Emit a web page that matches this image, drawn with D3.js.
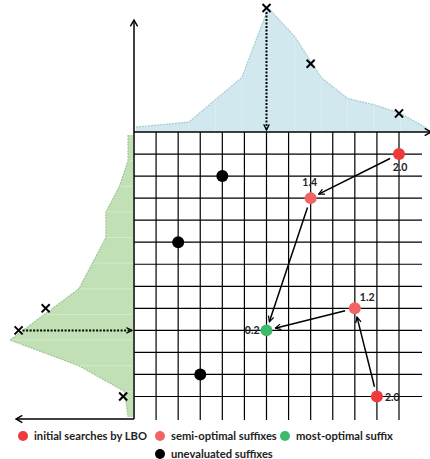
<!DOCTYPE html>
<html>
<head>
<meta charset="utf-8">
<script src="https://cdn.jsdelivr.net/npm/d3@7"></script>
<style>
  body { margin: 0; background: #fff; }
  svg { display: block; font-family: Lato, "Open Sans", sans-serif; }
</style>
</head>
<body>
<svg id="chart"></svg>
<script>
const width = 430;
const height = 459;

// density along the top (x direction), 12 samples, peak = 100
const topDensity = [4, 6, 8, 26, 44, 100, 77, 44, 27, 22, 15, 3];
// density along the left side (y direction), 12 samples, peak = 100
const leftDensity = [4, 4, 11, 22, 22, 33, 44, 72, 100, 44, 7, 4];

// crosses on the density curves (grid column/row, density value)
const topMarks = [{ col: 6, v: 100 }, { col: 8, v: 55 }, { col: 12, v: 15 }];
const leftMarks = [{ row: 8, v: 71 }, { row: 9, v: 93 }, { row: 12, v: 8 }];

// points on the search grid
const initialPts = [{ col: 12, row: 1, label: "2.0" }, { col: 11, row: 12, label: "2.0" }];
const semiPts = [{ col: 8, row: 3, label: "1.4" }, { col: 10, row: 8, label: "1.2" }];
const bestPts = [{ col: 6, row: 9, label: "0.2" }];
const unevaluatedPts = [{ col: 4, row: 2 }, { col: 2, row: 5 }, { col: 3, row: 11 }];

// search moves: [from col,row] -> [to col,row]
const moves = [
  [[12, 1], [8, 3]],
  [[8, 3], [6, 9]],
  [[10, 8], [6, 9]],
  [[11, 12], [10, 8]]
];

const legendItems = [
  { name: "initial searches by LBO", color: "#ee3a3c" },
  { name: "semi-optimal suffixes", color: "#f26363" },
  { name: "most-optimal suffix", color: "#3fb96a" },
  { name: "unevaluated suffixes", color: "#000000" }
];

const svg = d3.select("#chart")
  .attr("width", width)
  .attr("height", height)
  .attr("viewBox", [0, 0, width, height]);

const gx = d3.scaleLinear().domain([0, 12]).range([134, 399]);
const gy = d3.scaleLinear().domain([0, 12]).range([132, 396.5]);

const tx = d3.scaleLinear().domain([0, topDensity.length - 1]).range([136, 427]);
const ty = d3.scaleLinear().domain([0, 100]).range([132, 8]);

const ly = d3.scaleLinear().domain([0, leftDensity.length - 1]).range([135, 417]);
const lx = d3.scaleLinear().domain([0, 100]).range([133, 10]);

// arrow markers
const defs = svg.append("defs");
defs.append("marker")
  .attr("id", "head")
  .attr("viewBox", "0 0 10 10")
  .attr("refX", 9).attr("refY", 5)
  .attr("markerWidth", 7).attr("markerHeight", 7)
  .attr("markerUnits", "userSpaceOnUse")
  .attr("orient", "auto")
  .append("path")
  .attr("d", "M1,1 L9,5 L1,9")
  .attr("fill", "none")
  .attr("stroke", "#000")
  .attr("stroke-width", 1.8);

defs.append("marker")
  .attr("id", "headBig")
  .attr("viewBox", "0 0 10 10")
  .attr("refX", 9).attr("refY", 5)
  .attr("markerWidth", 9).attr("markerHeight", 9)
  .attr("markerUnits", "userSpaceOnUse")
  .attr("orient", "auto")
  .append("path")
  .attr("d", "M2,1 L9,5 L2,9")
  .attr("fill", "none")
  .attr("stroke", "#000")
  .attr("stroke-width", 1.6);

// top density area
const topArea = d3.area()
  .x((d, i) => tx(i))
  .y0(ty(0))
  .y1(d => ty(d));
svg.append("path")
  .datum(topDensity)
  .attr("d", topArea)
  .attr("fill", "#d0e8ee");
svg.append("path")
  .datum(topDensity)
  .attr("d", d3.line().x((d, i) => tx(i)).y(d => ty(d)))
  .attr("fill", "none")
  .attr("stroke", "#a8cbd4")
  .attr("stroke-width", 1.2)
  .attr("stroke-dasharray", "2,1");
svg.selectAll("line.tsep")
  .data(topDensity.slice(1, -1))
  .enter().append("line")
  .attr("class", "tsep")
  .attr("x1", (d, i) => tx(i + 1)).attr("x2", (d, i) => tx(i + 1))
  .attr("y1", ty(0)).attr("y2", d => ty(d) + 1)
  .attr("stroke", "#fff").attr("stroke-opacity", 0.3);

// left density area
const leftArea = d3.area()
  .y((d, i) => ly(i))
  .x0(lx(0))
  .x1(d => lx(d));
svg.append("path")
  .datum(leftDensity)
  .attr("d", leftArea)
  .attr("fill", "#c1e0b6");
svg.append("path")
  .datum(leftDensity)
  .attr("d", d3.line().y((d, i) => ly(i)).x(d => lx(d)))
  .attr("fill", "none")
  .attr("stroke", "#a0c694")
  .attr("stroke-width", 1.2)
  .attr("stroke-dasharray", "2,1");
svg.selectAll("line.lsep")
  .data(leftDensity.slice(1, -1))
  .enter().append("line")
  .attr("class", "lsep")
  .attr("y1", (d, i) => ly(i + 1)).attr("y2", (d, i) => ly(i + 1))
  .attr("x1", lx(0)).attr("x2", d => lx(d) + 1)
  .attr("stroke", "#fff").attr("stroke-opacity", 0.3);

// grid
const ticks = d3.range(1, 13);
svg.selectAll("line.vgrid")
  .data(ticks)
  .enter().append("line")
  .attr("class", "vgrid")
  .attr("x1", d => gx(d)).attr("x2", d => gx(d))
  .attr("y1", gy(0)).attr("y2", 420)
  .attr("stroke", "#000").attr("stroke-width", 1.2);
svg.selectAll("line.hgrid")
  .data(ticks)
  .enter().append("line")
  .attr("class", "hgrid")
  .attr("y1", d => gy(d)).attr("y2", d => gy(d))
  .attr("x1", gx(0)).attr("x2", 422)
  .attr("stroke", "#000").attr("stroke-width", 1.2);

// axes
svg.append("line")
  .attr("x1", gx(0)).attr("y1", gy(0))
  .attr("x2", gx(0)).attr("y2", 20)
  .attr("stroke", "#000").attr("stroke-width", 1.5)
  .attr("marker-end", "url(#headBig)");
svg.append("line")
  .attr("x1", gx(0)).attr("y1", gy(0))
  .attr("x2", 431).attr("y2", gy(0))
  .attr("stroke", "#000").attr("stroke-width", 1.5)
  .attr("marker-end", "url(#headBig)");
svg.append("line")
  .attr("x1", gx(0)).attr("y1", gy(0))
  .attr("x2", gx(0)).attr("y2", 419)
  .attr("stroke", "#000").attr("stroke-width", 1.5);
svg.append("line")
  .attr("x1", gx(0)).attr("y1", 419)
  .attr("x2", 16).attr("y2", 419)
  .attr("stroke", "#000").attr("stroke-width", 1.5)
  .attr("marker-end", "url(#headBig)");

// dotted projections from the best point to the density peaks
const best = bestPts[0];
svg.append("line")
  .attr("x1", gx(best.col)).attr("y1", ty(100) + 4)
  .attr("x2", gx(best.col)).attr("y2", gy(0) - 2)
  .attr("stroke", "#000").attr("stroke-width", 2)
  .attr("stroke-dasharray", "2,1.5")
  .attr("marker-end", "url(#head)");
svg.append("line")
  .attr("x1", lx(93) + 4).attr("y1", gy(best.row))
  .attr("x2", gx(0) - 2).attr("y2", gy(best.row))
  .attr("stroke", "#000").attr("stroke-width", 2)
  .attr("stroke-dasharray", "2,1.5")
  .attr("marker-end", "url(#head)");

// crosses
const cross = d3.symbol().type(d3.symbolX).size(44);
svg.selectAll("path.tmark")
  .data(topMarks)
  .enter().append("path")
  .attr("class", "tmark")
  .attr("transform", d => `translate(${gx(d.col)},${ty(d.v)})`)
  .attr("d", cross)
  .attr("fill", "none").attr("stroke", "#000").attr("stroke-width", 2);
svg.selectAll("path.lmark")
  .data(leftMarks)
  .enter().append("path")
  .attr("class", "lmark")
  .attr("transform", d => `translate(${lx(d.v)},${gy(d.row)})`)
  .attr("d", cross)
  .attr("fill", "none").attr("stroke", "#000").attr("stroke-width", 2);

// moves
svg.selectAll("line.move")
  .data(moves)
  .enter().append("line")
  .attr("class", "move")
  .each(function(d) {
    const x1 = gx(d[0][0]), y1 = gy(d[0][1]);
    const x2 = gx(d[1][0]), y2 = gy(d[1][1]);
    const len = Math.hypot(x2 - x1, y2 - y1);
    const ux = (x2 - x1) / len, uy = (y2 - y1) / len;
    d3.select(this)
      .attr("x1", x1 + ux * 10).attr("y1", y1 + uy * 10)
      .attr("x2", x2 - ux * 9).attr("y2", y2 - uy * 9);
  })
  .attr("stroke", "#000").attr("stroke-width", 1.5)
  .attr("marker-end", "url(#head)");

// points
function drawPoints(data, color, cls) {
  svg.selectAll("circle." + cls)
    .data(data)
    .enter().append("circle")
    .attr("class", cls)
    .attr("cx", d => gx(d.col))
    .attr("cy", d => gy(d.row))
    .attr("r", 6)
    .attr("fill", color);
}
drawPoints(unevaluatedPts, legendItems[3].color, "unevaluated");
drawPoints(initialPts, legendItems[0].color, "initial");
drawPoints(semiPts, legendItems[1].color, "semi");
drawPoints(bestPts, legendItems[2].color, "best");

// value labels
const labelPos = [
  { p: initialPts[0], dx: 1, dy: 17, anchor: "middle" },
  { p: initialPts[1], dx: 8, dy: 4, anchor: "start" },
  { p: semiPts[0], dx: -1, dy: -12, anchor: "middle" },
  { p: semiPts[1], dx: 5, dy: -7, anchor: "start" },
  { p: bestPts[0], dx: -7, dy: 4, anchor: "end" }
];
svg.selectAll("text.val")
  .data(labelPos)
  .enter().append("text")
  .attr("class", "val")
  .attr("x", d => gx(d.p.col) + d.dx)
  .attr("y", d => gy(d.p.row) + d.dy)
  .attr("text-anchor", d => d.anchor)
  .attr("font-size", 10.5)
  .attr("font-weight", 700)
  .attr("fill", "#222")
  .text(d => d.p.label);

// legend
const legendRows = [
  [legendItems[0], legendItems[1], legendItems[2]],
  [legendItems[3]]
];
const legendX = [[23, 160, 285], [160]];
legendRows.forEach((row, r) => {
  row.forEach((item, i) => {
    const g = svg.append("g")
      .attr("transform", `translate(${legendX[r][i]},${436 + r * 18})`);
    g.append("circle").attr("r", 5).attr("fill", item.color);
    g.append("text")
      .attr("x", 11).attr("y", 4)
      .attr("font-size", 11.2)
      .attr("font-weight", 700)
      .attr("fill", "#222")
      .text(item.name);
  });
});
</script>
</body>
</html>
